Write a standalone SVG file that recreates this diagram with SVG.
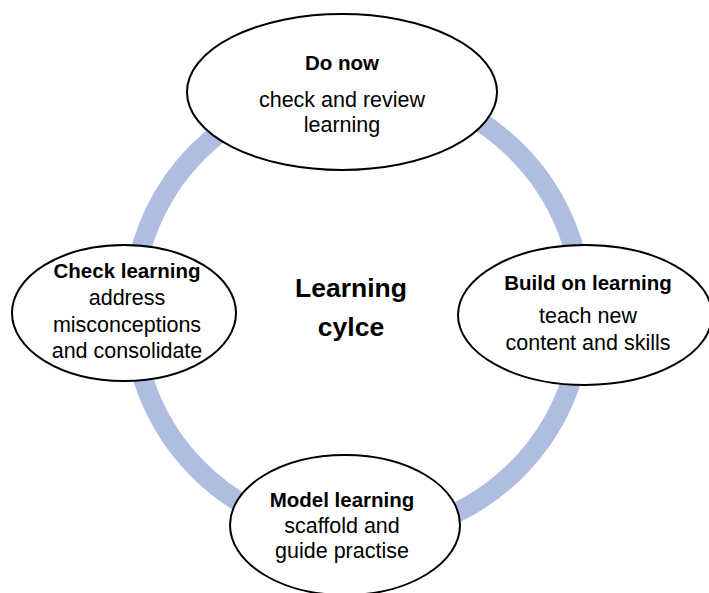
<svg xmlns="http://www.w3.org/2000/svg" width="709" height="593" viewBox="0 0 709 593">
<style>
.node ellipse{fill:#fff;stroke:#000;stroke-width:2}
text{font-family:"Liberation Sans",Arial,sans-serif;text-anchor:middle;fill:#000}
.t{font-size:21.5px}
.b{font-size:20.5px;font-weight:bold}
.c{font-size:26.5px;font-weight:bold}
</style>
<rect width="709" height="593" fill="#fff"/>
<g id="connectors">
<circle cx="357.5" cy="310.5" r="225" fill="none" stroke="#aebde0" stroke-width="20"/>
</g>
<g id="center">
<text class="c" x="351" y="297">Learning</text>
<text class="c" x="351" y="336">cylce</text>
</g>
<g id="do-now" class="node">
<ellipse cx="342" cy="92" rx="155" ry="78"/>
<text class="b" x="342" y="70">Do now</text>
<text class="t" x="342" y="107">check and review</text>
<text class="t" x="342" y="132">learning</text>
</g>
<g id="build-on-learning" class="node">
<ellipse cx="585" cy="315" rx="127" ry="70"/>
<text class="b" x="588" y="290">Build on learning</text>
<text class="t" x="588" y="323">teach new</text>
<text class="t" x="588" y="350">content and skills</text>
</g>
<g id="model-learning" class="node">
<ellipse cx="345" cy="525" rx="115" ry="70"/>
<text class="b" x="342" y="507">Model learning</text>
<text class="t" x="342" y="533">scaffold and</text>
<text class="t" x="342" y="558">guide practise</text>
</g>
<g id="check-learning" class="node">
<ellipse cx="124" cy="313" rx="112" ry="68"/>
<text class="b" x="127" y="278">Check learning</text>
<text class="t" x="127" y="305">address</text>
<text class="t" x="127" y="332">misconceptions</text>
<text class="t" x="127" y="358">and consolidate</text>
</g>
</svg>
